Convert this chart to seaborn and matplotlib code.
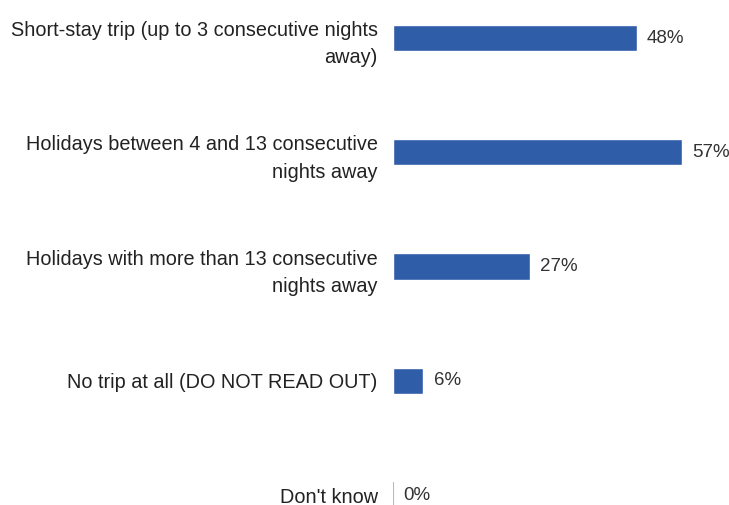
import matplotlib
matplotlib.use("Agg")
import matplotlib.pyplot as plt
import seaborn as sns
import pandas as pd

categories = [
    "Short-stay trip (up to 3 consecutive nights\naway)",
    "Holidays between 4 and 13 consecutive\nnights away",
    "Holidays with more than 13 consecutive\nnights away",
    "No trip at all (DO NOT READ OUT)",
    "Don't know",
]
values = [48, 57, 27, 6, 0]

df = pd.DataFrame({"answer": categories, "share": values})

sns.set_style("white")
plt.rcParams["font.family"] = ["Liberation Sans", "DejaVu Sans"]

fig = plt.figure(figsize=(7.29, 5.05), dpi=100)
ax = fig.add_axes([393 / 729, 0, 1 - 393 / 729 - 0.02, 1])

sns.barplot(data=df, x="share", y="answer", color="#2F5DA8", width=0.23,
            saturation=1, ax=ax)

# the 0% bar only shows as a thin light line
zero_bar = ax.patches[-1]
zero_bar.set_edgecolor("#A9BDE0")
zero_bar.set_linewidth(1.5)

for p, v in zip(ax.patches, values):
    ax.text(p.get_width() + 2, p.get_y() + p.get_height() / 2, f"{v}%",
            va="center", ha="left", fontsize=13.5, color="#333333")

ax.set_xlim(0, 63.3)
ax.set_ylim(4 + 10 / 114.25, -38 / 114.25)
ax.set_xlabel("")
ax.set_ylabel("")
ax.set_xticks([])
ax.tick_params(axis="y", length=0, pad=11, labelsize=14.3, labelcolor="#222222")
for lbl in ax.get_yticklabels():
    lbl.set_multialignment("right")
    lbl.set_linespacing(1.55)
sns.despine(ax=ax, left=True, bottom=True)

fig.savefig("out.png", dpi=100)
